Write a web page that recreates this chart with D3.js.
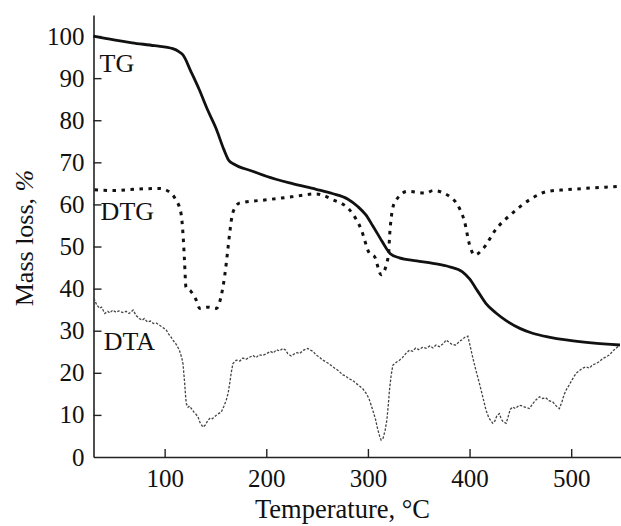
<!DOCTYPE html>
<html>
<head>
<meta charset="utf-8">
<script src="https://cdnjs.cloudflare.com/ajax/libs/d3/7.8.5/d3.min.js"></script>
<style>
  body { margin: 0; background: #fff; }
  svg { display: block; font-family: "Liberation Serif", "DejaVu Serif", serif; }
</style>
</head>
<body>
<div id="chart"></div>
<script>
// TG mass loss curve, [temperature, %]
const tg = [
  [30, 100], [50, 99.1], [68, 98.4], [90, 97.7], [108, 97], [114, 96.3], [118, 95.5],
  [126, 91.5], [134, 87.3], [142, 82.6], [151, 77.8], [158, 73.2], [163, 70.5],
  [168, 69.6], [185, 68], [200, 66.7], [225, 65], [249, 63.6], [265, 62.6],
  [280, 61.3], [290, 59.5], [298, 57.5], [305, 54.8], [312, 52], [318, 49.6],
  [322, 48.3], [331, 47.3], [348, 46.6], [364, 46], [380, 45.2], [393, 44],
  [400, 42.3], [408, 39.4], [416, 36.5], [426, 34.2], [436, 32.4], [450, 30.5],
  [462, 29.4], [478, 28.5], [495, 27.8], [520, 27.1], [548, 26.6]
];

// DTG curve
const dtg = [
  [31, 63.5], [50, 63.3], [70, 63.6], [95, 63.8], [105, 62.9], [111, 61.1],
  [116, 58], [118, 53.2], [119.5, 46.8], [121, 40.3], [126, 39.3], [131, 37.3],
  [134.5, 35.3], [142, 35.6], [151, 35.3], [155.5, 38.1], [159, 42.9],
  [162, 48.9], [164, 53.2], [167, 58], [173.5, 60.3], [200, 61.1], [225, 61.8],
  [249, 62.5], [265.5, 61.1], [282, 58.7], [293.5, 54], [301.5, 48.4],
  [306.5, 47.6], [313, 43.3], [318.5, 46], [320.5, 48.8], [321.5, 53.2],
  [326, 60.3], [339, 63.1], [357.5, 62.7], [364, 63.3], [383.5, 61.3],
  [390, 59.1], [395, 56], [400, 50.4], [405, 48], [413, 49.4], [426, 54.1],
  [442.5, 58], [459, 61.1], [477, 63.1], [495, 63.5], [520, 63.9], [548, 64.3]
];

// DTA signal (noisy trace)
const dta = [
  [30.5, 37.7], [33, 36.2], [36, 35.3], [38, 35.6], [41, 34.1], [44, 34.6], [46, 34.2],
  [49, 34.9], [52, 34.4], [55, 34.7], [59, 34.3], [62, 34.6], [65, 34.1], [69, 34.9],
  [72, 33.6], [75, 32.9], [78, 32.5], [80, 32.9], [83, 32.1], [86, 32.3], [89, 31.7],
  [92, 31.8], [95, 31.3], [98, 30.8], [101.5, 30.2], [104, 29.2], [106, 28.6],
  [108, 27.8], [111, 26.9], [114.5, 25.4], [117, 23.4], [118, 22.2], [119, 19.5],
  [119.7, 17.5], [120.5, 14.8], [121.3, 12.7], [123, 11.8], [124.5, 12.1],
  [126.3, 11.5], [129, 10.6], [131, 10.1], [132.8, 9.5], [135, 8.1], [137.7, 7.1],
  [140, 7.6], [142.6, 8.7], [145, 9.3], [147, 9.1], [150.8, 9.9], [153, 10.3],
  [155.7, 10.7], [158, 11.9], [160.6, 13.5], [162.5, 15.2], [164, 17.5],
  [165.5, 20], [167.2, 22.2], [170.5, 23], [174, 22.8], [177, 23.5], [180, 23.2],
  [183.6, 23.7], [187, 24.1], [190, 23.6], [193, 24.3], [196, 24.1], [200, 24.5],
  [204, 25.1], [207, 24.7], [210, 25.5], [213, 25.2], [216.3, 25.8], [219, 25.4],
  [221, 24.6], [224.5, 24], [227, 24.4], [230, 24.8], [233, 24.6], [236, 25.3],
  [240.8, 25.8], [243, 25.4], [246, 25.1], [249, 24.2], [252, 23.8], [255, 23.1],
  [258, 22.7], [262, 22.1], [265.5, 21.4], [268, 21], [271, 20.5], [275.3, 19.5],
  [278, 19.3], [281, 18.6], [285, 18.2], [288.4, 17.5], [292, 16.8], [295, 16.2],
  [298.3, 15.1], [301, 13.9], [304.8, 11.1], [307.5, 8.9], [309.8, 6.4], [311.5, 5],
  [313, 4], [315, 4.5], [317, 6.4], [318.6, 8.7], [320, 12.2], [321.2, 15.9],
  [322.8, 19.3], [324.5, 21.8], [328, 22.5], [331, 23], [334, 23.6], [337, 24.5],
  [341, 25.4], [344, 25.1], [347, 25.9], [350, 25.5], [354, 26.1], [357.3, 25.8],
  [361, 26.4], [364, 25.9], [367, 26.6], [370.4, 26.2], [374, 26.9], [377, 27.8],
  [380, 27.2], [383, 26.7], [386.8, 26.6], [390, 27.5], [393, 27.9], [395, 28.4],
  [398.3, 28.7], [400, 27], [403, 23.8], [406, 20.8], [409.7, 17.5], [413, 14.3],
  [416.2, 11.1], [419, 9.3], [422.8, 8], [425, 8.6], [427, 9.9], [429.4, 10.3],
  [431, 9.1], [433, 8.4], [436, 8], [438, 9.6], [440, 11.3], [442.5, 11.9],
  [445, 11.5], [449, 12.3], [452, 12.1], [455, 11.8], [459, 11.5], [462, 12.6],
  [465, 13.5], [468.7, 14.3], [472, 13.9], [475, 14.1], [478, 13.4], [481.8, 13.1],
  [485, 12.2], [488.4, 11.5], [491, 13.2], [493, 14.8], [495, 15.9], [498, 17.1],
  [501, 18.4], [504.8, 19.9], [508, 20.5], [511, 21.1], [514.7, 21.4], [518, 21.1],
  [521, 21.9], [524.5, 22.2], [528, 22.7], [531, 23.4], [534.4, 23.8], [538, 24.3],
  [541, 25.2], [544, 25.8], [547.5, 26.6]
];

const xTicks = [100, 200, 300, 400, 500];
const yTicks = [0, 10, 20, 30, 40, 50, 60, 70, 80, 90, 100];

const seriesLabels = [
  { name: "TG", t: 36, v: 91.5 },
  { name: "DTG", t: 37, v: 56.2 },
  { name: "DTA", t: 40, v: 25.3 }
];

const width = 621, height = 526;
const margin = { top: 15, right: 0, bottom: 69, left: 93.5 };

const svg = d3.select("#chart").append("svg")
  .attr("width", width)
  .attr("height", height);

const x = d3.scaleLinear()
  .domain([30, 549])
  .range([margin.left, width - margin.right]);

const y = d3.scaleLinear()
  .domain([0, 105])
  .range([height - margin.bottom, margin.top]);

const tickFont = 25, labelFont = 26;

// axes
const xAxis = svg.append("g")
  .attr("transform", `translate(0,${height - margin.bottom})`)
  .call(d3.axisBottom(x).tickValues(xTicks).tickSizeInner(-8).tickSizeOuter(0).tickPadding(12));

const yAxis = svg.append("g")
  .attr("transform", `translate(${margin.left},0)`)
  .call(d3.axisLeft(y).tickValues(yTicks).tickSizeInner(-8).tickSizeOuter(0).tickPadding(9));

[xAxis, yAxis].forEach(g => {
  g.attr("font-family", null);
  g.select(".domain").attr("stroke", "#222").attr("stroke-width", 1.6);
  g.selectAll(".tick line").attr("stroke", "#222").attr("stroke-width", 1.4);
  g.selectAll(".tick text")
    .attr("fill", "#111")
    .style("font-family", "'Liberation Serif', serif")
    .style("font-size", tickFont + "px");
});
yAxis.selectAll(".tick").filter(d => d === 0).select("line").remove();

// axis titles
svg.append("text")
  .attr("x", x(275))
  .attr("y", 518)
  .attr("text-anchor", "middle")
  .attr("fill", "#111")
  .style("font-size", "26.5px")
  .text("Temperature, °C");

const yTitle = svg.append("text")
  .attr("transform", `translate(33,238) rotate(-90)`)
  .attr("text-anchor", "middle")
  .attr("fill", "#111")
  .style("font-size", "26px");
yTitle.append("tspan").text("Mass loss, ");
yTitle.append("tspan").style("font-style", "italic").text("%");

// curves
const line = d3.line()
  .x(d => x(d[0]))
  .y(d => y(d[1]));

svg.append("path")
  .datum(dta)
  .attr("fill", "none")
  .attr("stroke", "#444")
  .attr("stroke-width", 1.3)
  .attr("stroke-dasharray", "2.5,1.6")
  .attr("d", line.curve(d3.curveLinear));

svg.append("path")
  .datum(dtg)
  .attr("fill", "none")
  .attr("stroke", "#111")
  .attr("stroke-width", 3)
  .attr("stroke-dasharray", "3.5,5.5")
  .attr("d", line.curve(d3.curveMonotoneX));

svg.append("path")
  .datum(tg)
  .attr("fill", "none")
  .attr("stroke", "#111")
  .attr("stroke-width", 2.8)
  .attr("d", line.curve(d3.curveMonotoneX));

// series labels
svg.append("g")
  .selectAll("text")
  .data(seriesLabels)
  .join("text")
    .attr("x", d => x(d.t))
    .attr("y", d => y(d.v))
    .attr("fill", "#111")
    .style("font-size", labelFont + "px")
    .text(d => d.name);
</script>
</body>
</html>
